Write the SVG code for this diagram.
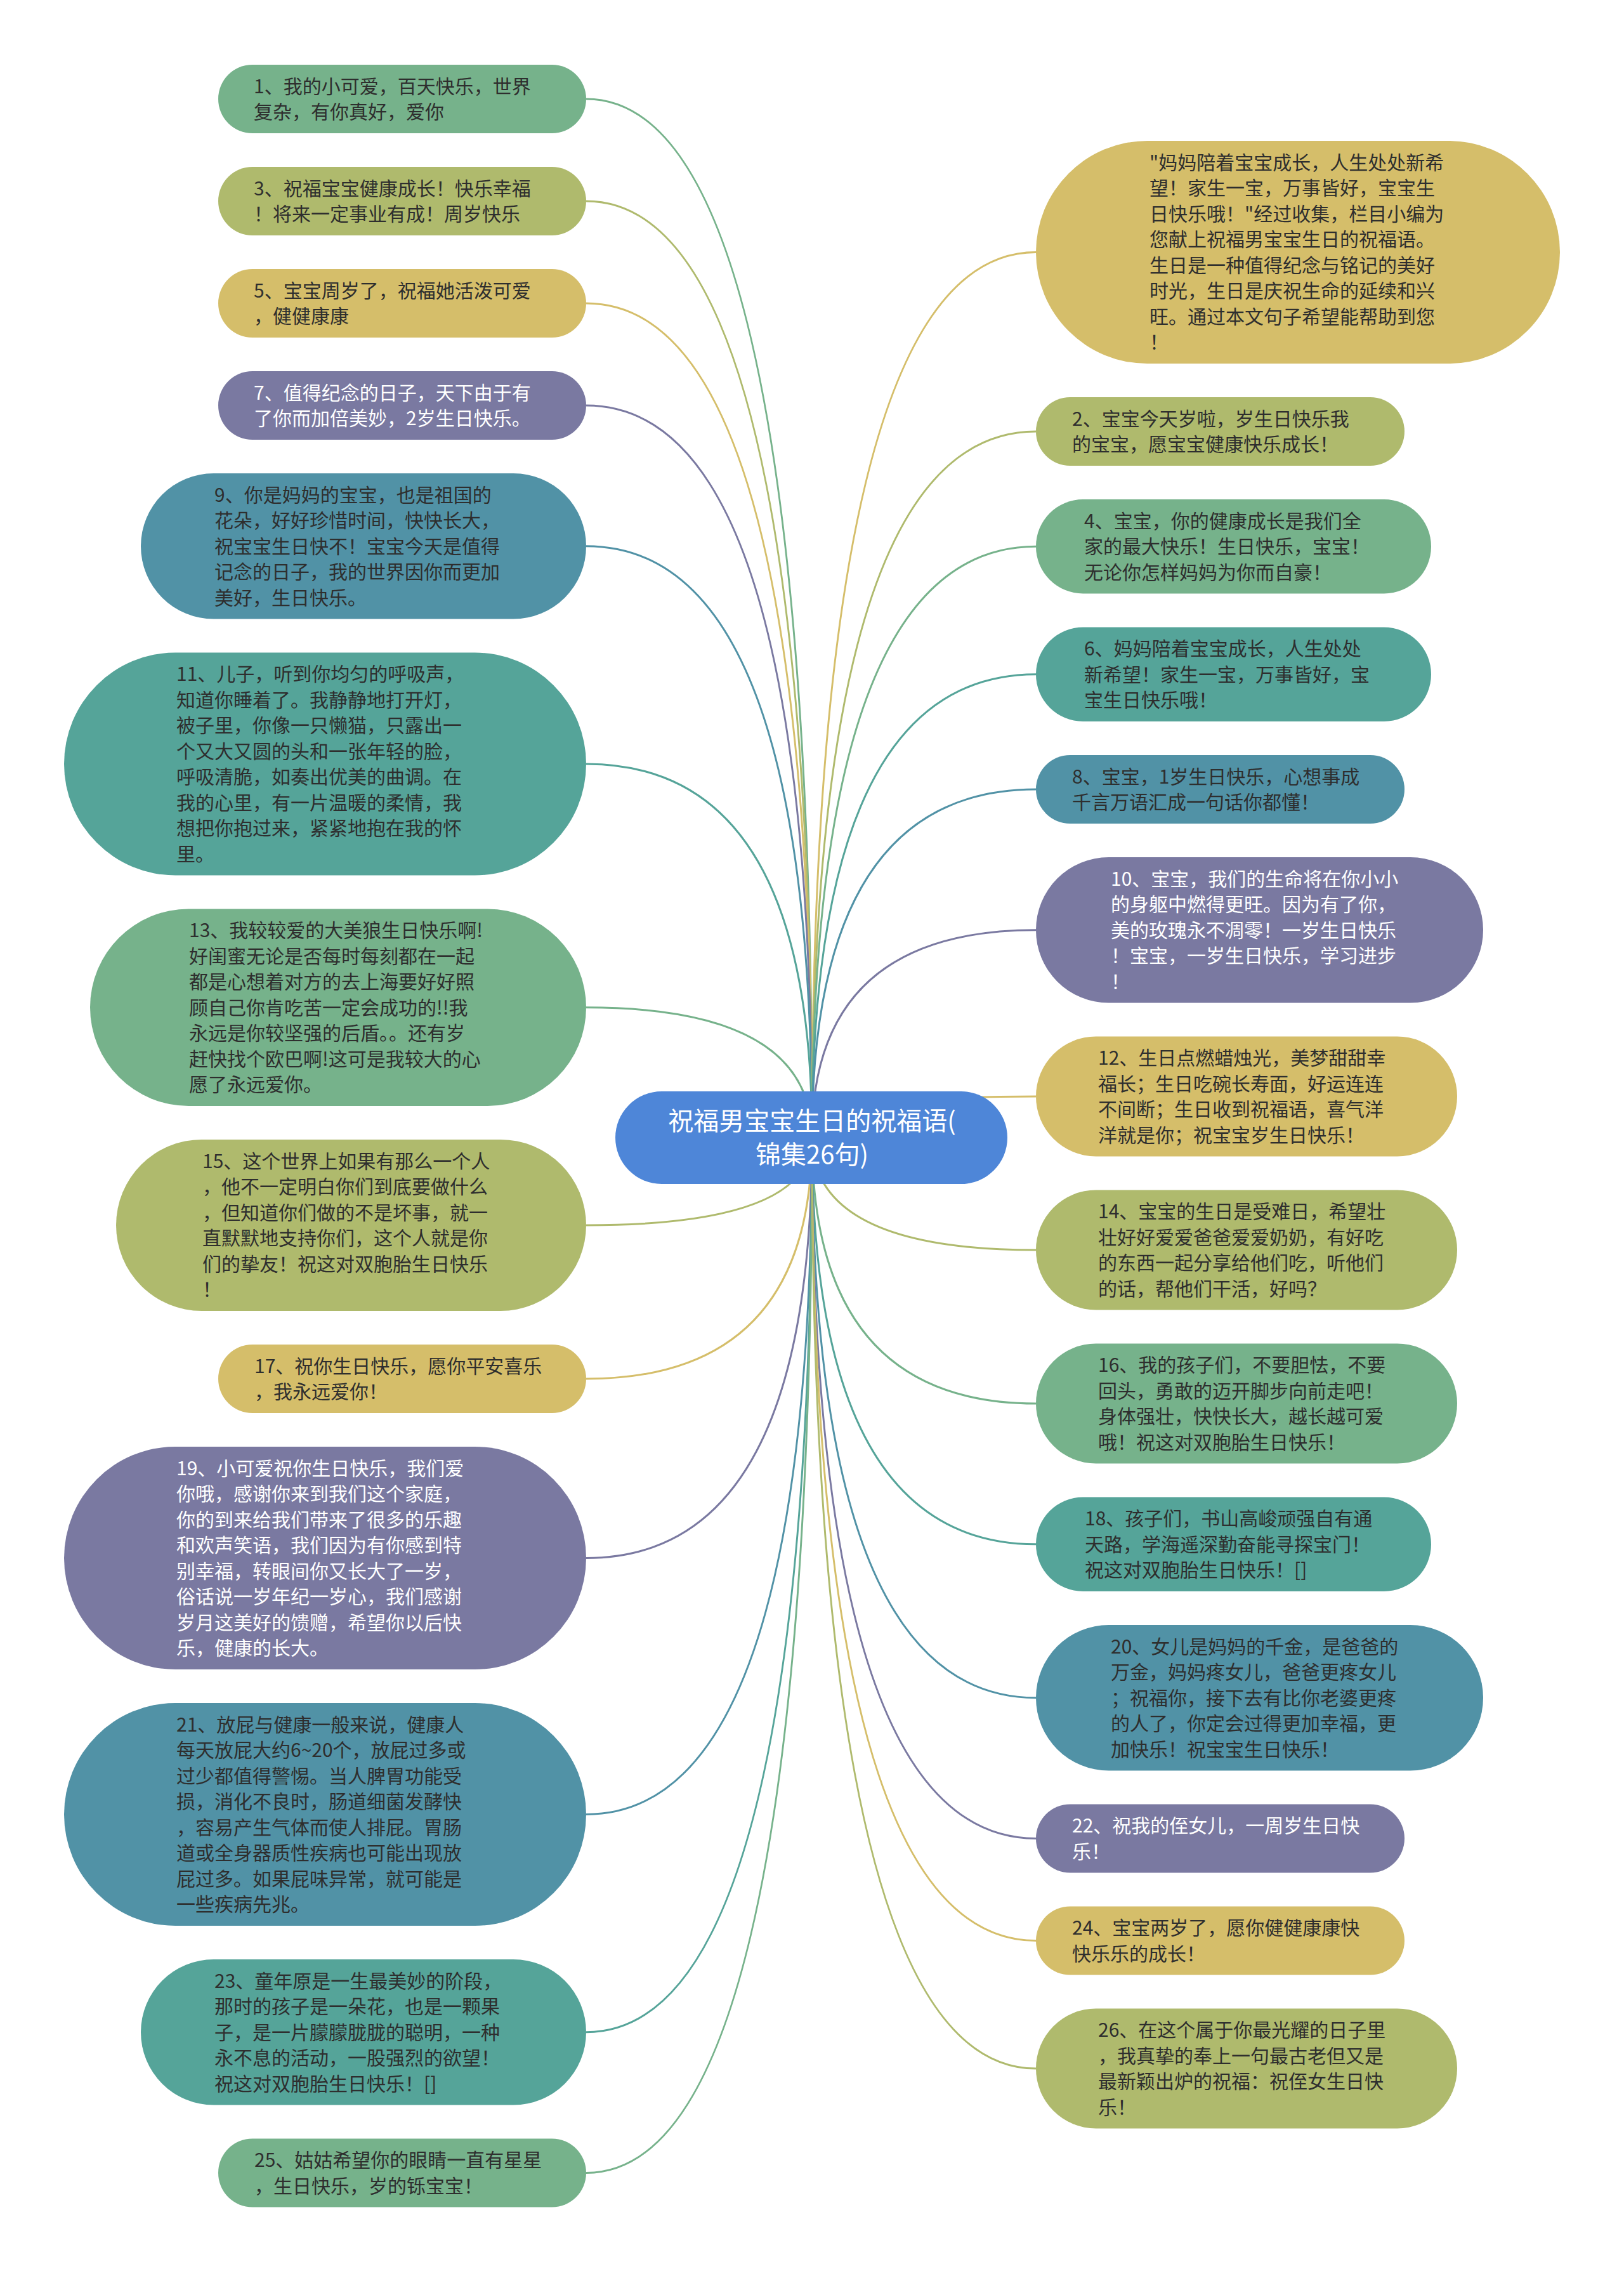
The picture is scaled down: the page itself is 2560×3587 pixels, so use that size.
<svg xmlns="http://www.w3.org/2000/svg" width="2560" height="3587" viewBox="0 0 2560 3587">
<style>
  .node text { font-family: "Noto Sans CJK SC", "Liberation Sans", sans-serif; font-size: 30px; fill: #2e2e2e; }
  .node.w text { fill: #ffffff; }
  .root text { font-family: "Noto Sans CJK SC", "Liberation Sans", sans-serif; font-size: 40px; fill: #ffffff; text-anchor: middle; }
  .green { fill: #76B28B; }
  .olive { fill: #AFBA6D; }
  .yellow { fill: #D5BE6A; }
  .purple { fill: #7A79A1; }
  .blueteal { fill: #5192A6; }
  .teal { fill: #55A499; }
  .connectors path { fill: none; stroke-width: 3; }
  .c-green { stroke: #76B28B; }
  .c-olive { stroke: #AFBA6D; }
  .c-yellow { stroke: #D5BE6A; }
  .c-purple { stroke: #7A79A1; }
  .c-blueteal { stroke: #5192A6; }
  .c-teal { stroke: #55A499; }
</style>
<rect width="2560" height="3587" fill="#ffffff"/>
<g class="connectors">
  <path class="c-green" d="M1280,1793 Q1280,156 924,156"/>
  <path class="c-olive" d="M1280,1793 Q1280,317 924,317"/>
  <path class="c-yellow" d="M1280,1793 Q1280,478 924,478"/>
  <path class="c-purple" d="M1280,1793 Q1280,639 924,639"/>
  <path class="c-blueteal" d="M1280,1793 Q1280,860.75 924,860.75"/>
  <path class="c-teal" d="M1280,1793 Q1280,1204 924,1204"/>
  <path class="c-green" d="M1280,1793 Q1280,1587.75 924,1587.75"/>
  <path class="c-olive" d="M1280,1793 Q1280,1931 924,1931"/>
  <path class="c-yellow" d="M1280,1793 Q1280,2173 924,2173"/>
  <path class="c-purple" d="M1280,1793 Q1280,2455.5 924,2455.5"/>
  <path class="c-blueteal" d="M1280,1793 Q1280,2859.5 924,2859.5"/>
  <path class="c-teal" d="M1280,1793 Q1280,3202.75 924,3202.75"/>
  <path class="c-green" d="M1280,1793 Q1280,3424.5 924,3424.5"/>
  <path class="c-yellow" d="M1280,1793 Q1280,397.5 1633,397.5"/>
  <path class="c-olive" d="M1280,1793 Q1280,680 1633,680"/>
  <path class="c-green" d="M1280,1793 Q1280,861.25 1633,861.25"/>
  <path class="c-teal" d="M1280,1793 Q1280,1062.75 1633,1062.75"/>
  <path class="c-blueteal" d="M1280,1793 Q1280,1244 1633,1244"/>
  <path class="c-purple" d="M1280,1793 Q1280,1465.75 1633,1465.75"/>
  <path class="c-yellow" d="M1280,1793 Q1280,1728 1633,1728"/>
  <path class="c-olive" d="M1280,1793 Q1280,1970 1633,1970"/>
  <path class="c-green" d="M1280,1793 Q1280,2212 1633,2212"/>
  <path class="c-teal" d="M1280,1793 Q1280,2433.75 1633,2433.75"/>
  <path class="c-blueteal" d="M1280,1793 Q1280,2675.75 1633,2675.75"/>
  <path class="c-purple" d="M1280,1793 Q1280,2897.5 1633,2897.5"/>
  <path class="c-yellow" d="M1280,1793 Q1280,3058.5 1633,3058.5"/>
  <path class="c-olive" d="M1280,1793 Q1280,3260 1633,3260"/>
</g>

<g id="root" class="root">
  <rect x="970" y="1720" width="618" height="146" rx="73" fill="#4E86D8"/>
  <text><tspan x="1280" y="1781">祝福男宝宝生日的祝福语(</tspan><tspan x="1280" y="1834">锦集26句)</tspan></text>
</g>

<!-- Left column -->
<g id="n1" class="node">
  <rect class="green" x="344" y="102" width="580" height="108" rx="54"/>
  <text><tspan x="400" y="146.75">1、我的小可爱，百天快乐，世界</tspan><tspan x="400" dy="40.5">复杂，有你真好，爱你</tspan></text>
</g>
<g id="n3" class="node">
  <rect class="olive" x="344" y="263" width="580" height="108" rx="54"/>
  <text><tspan x="400" y="307.75">3、祝福宝宝健康成长！快乐幸福</tspan><tspan x="400" dy="40.5">！将来一定事业有成！周岁快乐</tspan></text>
</g>
<g id="n5" class="node">
  <rect class="yellow" x="344" y="424" width="580" height="108" rx="54"/>
  <text><tspan x="400" y="468.75">5、宝宝周岁了，祝福她活泼可爱</tspan><tspan x="400" dy="40.5">，健健康康</tspan></text>
</g>
<g id="n7" class="node w">
  <rect class="purple" x="344" y="585" width="580" height="108" rx="54"/>
  <text><tspan x="400" y="629.75">7、值得纪念的日子，天下由于有</tspan><tspan x="400" dy="40.5">了你而加倍美妙，2岁生日快乐。</tspan></text>
</g>
<g id="n9" class="node">
  <rect class="blueteal" x="222" y="746" width="702" height="229.5" rx="114.75"/>
  <text><tspan x="338" y="790.75">9、你是妈妈的宝宝，也是祖国的</tspan><tspan x="338" dy="40.5">花朵，好好珍惜时间，快快长大，</tspan><tspan x="338" dy="40.5">祝宝宝生日快不！宝宝今天是值得</tspan><tspan x="338" dy="40.5">记念的日子，我的世界因你而更加</tspan><tspan x="338" dy="40.5">美好，生日快乐。</tspan></text>
</g>
<g id="n11" class="node">
  <rect class="teal" x="101" y="1028.5" width="823" height="351" rx="175.5"/>
  <text><tspan x="278" y="1073.25">11、儿子，听到你均匀的呼吸声，</tspan><tspan x="278" dy="40.5">知道你睡着了。我静静地打开灯，</tspan><tspan x="278" dy="40.5">被子里，你像一只懒猫，只露出一</tspan><tspan x="278" dy="40.5">个又大又圆的头和一张年轻的脸，</tspan><tspan x="278" dy="40.5">呼吸清脆，如奏出优美的曲调。在</tspan><tspan x="278" dy="40.5">我的心里，有一片温暖的柔情，我</tspan><tspan x="278" dy="40.5">想把你抱过来，紧紧地抱在我的怀</tspan><tspan x="278" dy="40.5">里。</tspan></text>
</g>
<g id="n13" class="node">
  <rect class="green" x="142" y="1432.5" width="782" height="310.5" rx="155.25"/>
  <text><tspan x="298" y="1477.25">13、我较较爱的大美狼生日快乐啊!</tspan><tspan x="298" dy="40.5">好闺蜜无论是否每时每刻都在一起</tspan><tspan x="298" dy="40.5">都是心想着对方的去上海要好好照</tspan><tspan x="298" dy="40.5">顾自己你肯吃苦一定会成功的!!我</tspan><tspan x="298" dy="40.5">永远是你较坚强的后盾。。还有岁</tspan><tspan x="298" dy="40.5">赶快找个欧巴啊!这可是我较大的心</tspan><tspan x="298" dy="40.5">愿了永远爱你。</tspan></text>
</g>
<g id="n15" class="node">
  <rect class="olive" x="183" y="1796" width="741" height="270" rx="135"/>
  <text><tspan x="319" y="1840.75">15、这个世界上如果有那么一个人</tspan><tspan x="319" dy="40.5">，他不一定明白你们到底要做什么</tspan><tspan x="319" dy="40.5">，但知道你们做的不是坏事，就一</tspan><tspan x="319" dy="40.5">直默默地支持你们，这个人就是你</tspan><tspan x="319" dy="40.5">们的挚友！祝这对双胞胎生日快乐</tspan><tspan x="319" dy="40.5">！</tspan></text>
</g>
<g id="n17" class="node">
  <rect class="yellow" x="344" y="2119" width="580" height="108" rx="54"/>
  <text><tspan x="401" y="2163.75">17、祝你生日快乐，愿你平安喜乐</tspan><tspan x="401" dy="40.5">，我永远爱你！</tspan></text>
</g>
<g id="n19" class="node w">
  <rect class="purple" x="101" y="2280" width="823" height="351" rx="175.5"/>
  <text><tspan x="278" y="2324.75">19、小可爱祝你生日快乐，我们爱</tspan><tspan x="278" dy="40.5">你哦，感谢你来到我们这个家庭，</tspan><tspan x="278" dy="40.5">你的到来给我们带来了很多的乐趣</tspan><tspan x="278" dy="40.5">和欢声笑语，我们因为有你感到特</tspan><tspan x="278" dy="40.5">别幸福，转眼间你又长大了一岁，</tspan><tspan x="278" dy="40.5">俗话说一岁年纪一岁心，我们感谢</tspan><tspan x="278" dy="40.5">岁月这美好的馈赠，希望你以后快</tspan><tspan x="278" dy="40.5">乐，健康的长大。</tspan></text>
</g>
<g id="n21" class="node">
  <rect class="blueteal" x="101" y="2684" width="823" height="351" rx="175.5"/>
  <text><tspan x="278" y="2728.75">21、放屁与健康一般来说，健康人</tspan><tspan x="278" dy="40.5">每天放屁大约6~20个，放屁过多或</tspan><tspan x="278" dy="40.5">过少都值得警惕。当人脾胃功能受</tspan><tspan x="278" dy="40.5">损，消化不良时，肠道细菌发酵快</tspan><tspan x="278" dy="40.5">，容易产生气体而使人排屁。胃肠</tspan><tspan x="278" dy="40.5">道或全身器质性疾病也可能出现放</tspan><tspan x="278" dy="40.5">屁过多。如果屁味异常，就可能是</tspan><tspan x="278" dy="40.5">一些疾病先兆。</tspan></text>
</g>
<g id="n23" class="node">
  <rect class="teal" x="222" y="3088" width="702" height="229.5" rx="114.75"/>
  <text><tspan x="338" y="3132.75">23、童年原是一生最美妙的阶段，</tspan><tspan x="338" dy="40.5">那时的孩子是一朵花，也是一颗果</tspan><tspan x="338" dy="40.5">子，是一片朦朦胧胧的聪明，一种</tspan><tspan x="338" dy="40.5">永不息的活动，一股强烈的欲望！</tspan><tspan x="338" dy="40.5">祝这对双胞胎生日快乐！[]</tspan></text>
</g>
<g id="n25" class="node">
  <rect class="green" x="344" y="3370.5" width="580" height="108" rx="54"/>
  <text><tspan x="401" y="3415.25">25、姑姑希望你的眼睛一直有星星</tspan><tspan x="401" dy="40.5">，生日快乐，岁的铄宝宝！</tspan></text>
</g>

<!-- Right column -->
<g id="intro" class="node">
  <rect class="yellow" x="1633" y="222" width="826" height="351" rx="175.5"/>
  <text><tspan x="1812" y="266.75">"妈妈陪着宝宝成长，人生处处新希</tspan><tspan x="1812" dy="40.5">望！家生一宝，万事皆好，宝宝生</tspan><tspan x="1812" dy="40.5">日快乐哦！"经过收集，栏目小编为</tspan><tspan x="1812" dy="40.5">您献上祝福男宝宝生日的祝福语。</tspan><tspan x="1812" dy="40.5">生日是一种值得纪念与铭记的美好</tspan><tspan x="1812" dy="40.5">时光，生日是庆祝生命的延续和兴</tspan><tspan x="1812" dy="40.5">旺。通过本文句子希望能帮助到您</tspan><tspan x="1812" dy="40.5">！</tspan></text>
</g>
<g id="n2" class="node">
  <rect class="olive" x="1633" y="626" width="581" height="108" rx="54"/>
  <text><tspan x="1690" y="670.75">2、宝宝今天岁啦，岁生日快乐我</tspan><tspan x="1690" dy="40.5">的宝宝，愿宝宝健康快乐成长！</tspan></text>
</g>
<g id="n4" class="node">
  <rect class="green" x="1633" y="787" width="623" height="148.5" rx="74.25"/>
  <text><tspan x="1709" y="831.75">4、宝宝，你的健康成长是我们全</tspan><tspan x="1709" dy="40.5">家的最大快乐！生日快乐，宝宝！</tspan><tspan x="1709" dy="40.5">无论你怎样妈妈为你而自豪！</tspan></text>
</g>
<g id="n6" class="node">
  <rect class="teal" x="1633" y="988.5" width="623" height="148.5" rx="74.25"/>
  <text><tspan x="1709" y="1033.25">6、妈妈陪着宝宝成长，人生处处</tspan><tspan x="1709" dy="40.5">新希望！家生一宝，万事皆好，宝</tspan><tspan x="1709" dy="40.5">宝生日快乐哦！</tspan></text>
</g>
<g id="n8" class="node">
  <rect class="blueteal" x="1633" y="1190" width="581" height="108" rx="54"/>
  <text><tspan x="1690" y="1234.75">8、宝宝，1岁生日快乐，心想事成</tspan><tspan x="1690" dy="40.5">千言万语汇成一句话你都懂！</tspan></text>
</g>
<g id="n10" class="node w">
  <rect class="purple" x="1633" y="1351" width="705" height="229.5" rx="114.75"/>
  <text><tspan x="1751" y="1395.75">10、宝宝，我们的生命将在你小小</tspan><tspan x="1751" dy="40.5">的身躯中燃得更旺。因为有了你，</tspan><tspan x="1751" dy="40.5">美的玫瑰永不凋零！一岁生日快乐</tspan><tspan x="1751" dy="40.5">！宝宝，一岁生日快乐，学习进步</tspan><tspan x="1751" dy="40.5">！</tspan></text>
</g>
<g id="n12" class="node">
  <rect class="yellow" x="1633" y="1633.5" width="664" height="189" rx="94.5"/>
  <text><tspan x="1731" y="1678.25">12、生日点燃蜡烛光，美梦甜甜幸</tspan><tspan x="1731" dy="40.5">福长；生日吃碗长寿面，好运连连</tspan><tspan x="1731" dy="40.5">不间断；生日收到祝福语，喜气洋</tspan><tspan x="1731" dy="40.5">洋就是你；祝宝宝岁生日快乐！</tspan></text>
</g>
<g id="n14" class="node">
  <rect class="olive" x="1633" y="1875.5" width="664" height="189" rx="94.5"/>
  <text><tspan x="1731" y="1920.25">14、宝宝的生日是受难日，希望壮</tspan><tspan x="1731" dy="40.5">壮好好爱爱爸爸爱爱奶奶，有好吃</tspan><tspan x="1731" dy="40.5">的东西一起分享给他们吃，听他们</tspan><tspan x="1731" dy="40.5">的话，帮他们干活，好吗？</tspan></text>
</g>
<g id="n16" class="node">
  <rect class="green" x="1633" y="2117.5" width="664" height="189" rx="94.5"/>
  <text><tspan x="1731" y="2162.25">16、我的孩子们，不要胆怯，不要</tspan><tspan x="1731" dy="40.5">回头，勇敢的迈开脚步向前走吧！</tspan><tspan x="1731" dy="40.5">身体强壮，快快长大，越长越可爱</tspan><tspan x="1731" dy="40.5">哦！祝这对双胞胎生日快乐！</tspan></text>
</g>
<g id="n18" class="node">
  <rect class="teal" x="1633" y="2359.5" width="623" height="148.5" rx="74.25"/>
  <text><tspan x="1710" y="2404.25">18、孩子们，书山高峻顽强自有通</tspan><tspan x="1710" dy="40.5">天路，学海遥深勤奋能寻探宝门！</tspan><tspan x="1710" dy="40.5">祝这对双胞胎生日快乐！[]</tspan></text>
</g>
<g id="n20" class="node">
  <rect class="blueteal" x="1633" y="2561" width="705" height="229.5" rx="114.75"/>
  <text><tspan x="1751" y="2605.75">20、女儿是妈妈的千金，是爸爸的</tspan><tspan x="1751" dy="40.5">万金，妈妈疼女儿，爸爸更疼女儿</tspan><tspan x="1751" dy="40.5">；祝福你，接下去有比你老婆更疼</tspan><tspan x="1751" dy="40.5">的人了，你定会过得更加幸福，更</tspan><tspan x="1751" dy="40.5">加快乐！祝宝宝生日快乐！</tspan></text>
</g>
<g id="n22" class="node w">
  <rect class="purple" x="1633" y="2843.5" width="581" height="108" rx="54"/>
  <text><tspan x="1690" y="2888.25">22、祝我的侄女儿，一周岁生日快</tspan><tspan x="1690" dy="40.5">乐！</tspan></text>
</g>
<g id="n24" class="node">
  <rect class="yellow" x="1633" y="3004.5" width="581" height="108" rx="54"/>
  <text><tspan x="1690" y="3049.25">24、宝宝两岁了，愿你健健康康快</tspan><tspan x="1690" dy="40.5">快乐乐的成长！</tspan></text>
</g>
<g id="n26" class="node">
  <rect class="olive" x="1633" y="3165.5" width="664" height="189" rx="94.5"/>
  <text><tspan x="1731" y="3210.25">26、在这个属于你最光耀的日子里</tspan><tspan x="1731" dy="40.5">，我真挚的奉上一句最古老但又是</tspan><tspan x="1731" dy="40.5">最新颖出炉的祝福：祝侄女生日快</tspan><tspan x="1731" dy="40.5">乐！</tspan></text>
</g>
</svg>
